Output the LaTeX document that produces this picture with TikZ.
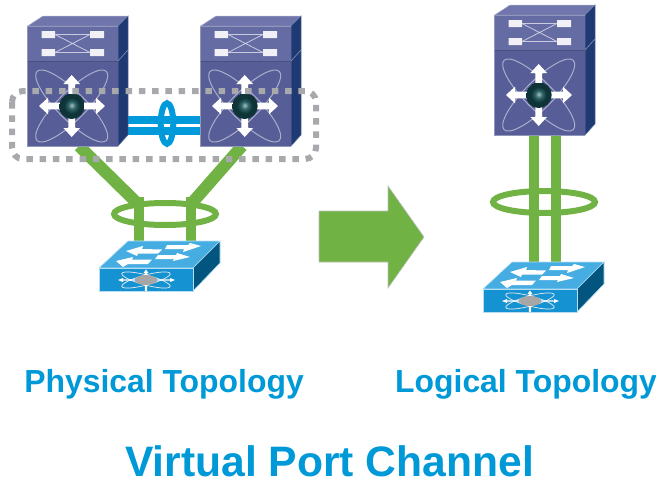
\documentclass[tikz,border=0pt]{standalone}
\usepackage{fontspec}
\setmainfont{Liberation Sans}
\definecolor{ciscoblue}{HTML}{0099D8}
\definecolor{linkgreen}{HTML}{70B244}
\definecolor{linkblue}{HTML}{009ADA}
\definecolor{dotgray}{HTML}{A7A9AC}
\definecolor{faceupper}{HTML}{656BA3}
\definecolor{facelower}{HTML}{575D97}
\definecolor{facetop}{HTML}{7076AC}
\definecolor{faceside}{HTML}{1F3A73}
\definecolor{swfront}{HTML}{1592D2}
\definecolor{swtop}{HTML}{45ADE2}
\definecolor{swside}{HTML}{01557F}
\definecolor{orbcore}{HTML}{A8C0C0}
\definecolor{orbmid}{HTML}{2E6468}
\definecolor{orbdark}{HTML}{0E3438}
\pgfdeclareradialshading{orb}{\pgfpoint{0bp}{1.5bp}}{color(0bp)=(orbcore);color(7bp)=(orbmid);color(15bp)=(orbdark);color(25bp)=(orbdark)}
\tikzset{
  label text/.style={font=\bfseries\fontsize{31.9}{36}\selectfont,text=ciscoblue,anchor=base,inner sep=0pt},
  title text/.style={font=\bfseries\fontsize{42.6}{48}\selectfont,text=ciscoblue,anchor=base,inner sep=0pt},
  green link/.style={draw=linkgreen,line width=10pt},
  green slant/.style={draw=linkgreen,line width=12pt},
  green ring/.style={draw=linkgreen,line width=6pt},
  blue link/.style={draw=linkblue,line width=8pt},
  blue ring/.style={draw=linkblue,line width=6pt},
  orbit/.style={draw=white!50!facelower,line width=1pt},
  white arrow/.style={fill=white,draw=none},
  sw orbit/.style={draw=white!85!gray,line width=0.7pt},
}
% chassis drawn in the coordinates of the left one
\newcommand{\chassisicon}{%
  \fill[draw=white!40!facetop,line width=.5pt,fill=facetop] (27.7,26)--(43,16)--(128,16)--(118,26)--cycle;
  \fill[draw=white!30!faceside,line width=.5pt,fill=faceside] (118,26)--(128,16)--(128,135)--(118,146)--cycle;
  \draw[white!45!faceside,line width=.6pt] (118,61)--(128,50);
  \fill[faceupper] (27.7,26) rectangle (118,61);
  \fill[facelower] (27.7,61) rectangle (118,146);
  \draw[white!35!facelower,line width=.5pt] (118,26)--(27.7,26)--(27.7,146)--(118,146);
  \draw[facelower!85!black,line width=1pt] (27.7,61)--(118,61);
  % cross icon
  \draw[white!65!faceupper,line width=.8pt] (55,34.5)--(90,34.5) (55,52.5)--(90,52.5) (55,34.5)--(90,52.5) (55,52.5)--(90,34.5);
  \fill[white!90!faceupper] (41.5,31) rectangle (55,38) (41.5,49) rectangle (55,56) (90,31) rectangle (104,38) (90,49) rectangle (104,56);
  % orbits
  \draw[orbit,rotate around={45:(71.7,106)}] (71.7,106) ellipse [x radius=49,y radius=14];
  \draw[orbit,rotate around={-45:(71.7,106)}] (71.7,106) ellipse [x radius=49,y radius=14];
  % arrows
  \fill[white arrow] (71.7,75)--(80,84)--(75,84)--(75,128)--(80,128)--(71.7,137)--(63.4,128)--(68.4,128)--(68.4,84)--(63.4,84)--cycle;
  \fill[white arrow] (39,106)--(48,97.7)--(48,102.7)--(96,102.7)--(96,97.7)--(105,106)--(96,114.3)--(96,109.3)--(48,109.3)--(48,114.3)--cycle;
  \shade[shading=orb] (71.7,106) circle (13);
}
\newcommand{\switchicon}{%
  \fill[swtop,draw=white!60!swtop,line width=.6pt] (99,268)--(128,241)--(220,241)--(193,268)--cycle;
  \fill[swside,draw=white!60!swtop,line width=.6pt] (193,268)--(220,241)--(220,263)--(193,291)--cycle;
  \fill[swfront,draw=white!60!swtop,line width=.6pt] (99,268) rectangle (193,291);
  \fill[white arrow] (126,251)--(143,246)--(142,249)--(162,249.5)--(158,253.5)--(138,253.5)--(137,256)--cycle;
  \fill[white arrow] (116,261)--(133,257)--(132,259.5)--(152,259.5)--(148,264)--(128,264)--(123,267)--cycle;
  \fill[white arrow] (201,246)--(190,243)--(188,245)--(167,245)--(165,249)--(184,249)--(183,252)--cycle;
  \fill[white arrow] (190,257)--(177,253)--(176,255)--(158,255)--(155,259)--(174,259)--(173,261)--cycle;
  \draw[sw orbit,rotate around={15:(146,280)}] (146,280) ellipse [x radius=25,y radius=5];
  \draw[sw orbit,rotate around={-15:(146,280)}] (146,280) ellipse [x radius=25,y radius=5];
  \fill[white arrow] (118,280)--(123,278)--(123,279.4)--(170,279.4)--(170,278)--(175,280)--(170,282)--(170,280.6)--(123,280.6)--(123,282)--cycle;
  \fill[white arrow] (146,269.5)--(148.5,273)--(147.2,273)--(147.2,291)--(144.8,291)--(144.8,273)--(143.5,273)--cycle;
  \fill[black!35] (146,280) ellipse [x radius=11,y radius=5];
}
\begin{document}
\begin{tikzpicture}[x=1pt,y=-1pt]
\useasboundingbox (0,0) rectangle (656,482);
% named link end points
\coordinate (chassisAfoot) at (79,146);
\coordinate (chassisBfoot) at (242,146);
\coordinate (slantA) at (137,203);
\coordinate (slantB) at (192,203);
\coordinate (riserA) at (139,197);
\coordinate (riserB) at (190.5,197);
\coordinate (switchLa) at (139,243);
\coordinate (switchLb) at (190.5,243);
\coordinate (chassisCa) at (534,135);
\coordinate (chassisCb) at (556,135);
\coordinate (switchRa) at (534,264);
\coordinate (switchRb) at (556,264);
\coordinate (chassisAa) at (128,119.5);
\coordinate (chassisAb) at (128,130.5);
\coordinate (chassisBa) at (201,119.5);
\coordinate (chassisBb) at (201,130.5);
% green links
\draw[green slant] (chassisAfoot)--(slantA);
\draw[green slant] (chassisBfoot)--(slantB);
\draw[green link] (riserA)--(switchLa);
\draw[green link] (riserB)--(switchLb);
\draw[green link] (chassisCa)--(switchRa);
\draw[green link] (chassisCb)--(switchRb);
% rings
\draw[green ring] (165,214) ellipse [x radius=51,y radius=11];
\draw[green ring] (544,202) ellipse [x radius=51,y radius=11];
% vPC peer link
\draw[blue link] (chassisAa)--(chassisBa);
\draw[blue link] (chassisAb)--(chassisBb);
\draw[blue ring] (167,123.5) ellipse [x radius=6.3,y radius=20.3];
% devices
\chassisicon
\begin{scope}[shift={(173,0)}]\chassisicon\end{scope}
\begin{scope}[shift={(467,-11)}]\chassisicon\end{scope}
\switchicon
\begin{scope}[shift={(384,21)}]\switchicon\end{scope}
% dotted group
\draw[dotgray,line width=6pt,dash pattern=on 6.5pt off 6.8pt,rounded corners=11pt] (12,91) rectangle (316,159);
% big arrow
\fill[linkgreen,draw=black!25,line width=.6pt] (319,211)--(388,211)--(388,186)--(424,237)--(388,288)--(388,262)--(319,262)--cycle;
% texts
\node[label text] (physical) at (164,392) {Physical Topology};
\node[label text] (logical) at (526,392) {Logical Topology};
\node[title text] (title) at (329.5,476.5) {Virtual Port Channel};
\end{tikzpicture}
\end{document}
